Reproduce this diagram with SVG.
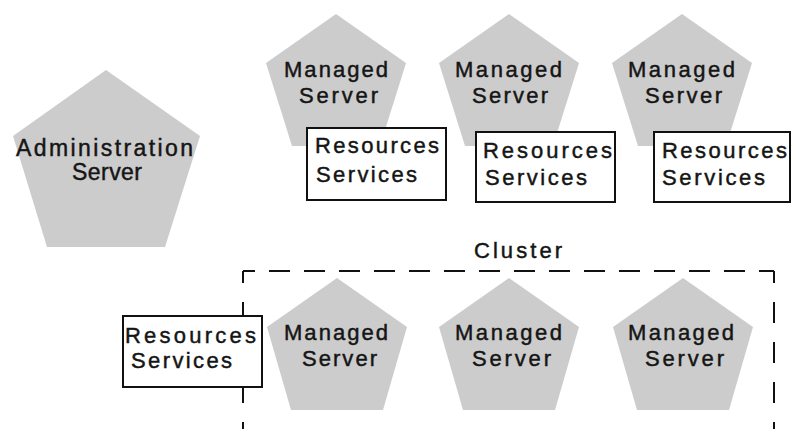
<svg xmlns="http://www.w3.org/2000/svg" width="793" height="429" viewBox="0 0 793 429">
<style>
  .pent { fill: #cccccc; stroke: none; }
  .box { fill: #ffffff; stroke: #111111; stroke-width: 2; }
  .t { font-family: "Liberation Sans", Arial, sans-serif; font-size: 22px; fill: #151515; stroke: #151515; stroke-width: 0.45; }
  .ta { font-size: 23px; }
  .dash { fill: none; stroke: #111111; stroke-width: 2; }
</style>
<rect width="793" height="429" fill="#ffffff"/>

<g id="cluster">
  <line class="dash" x1="243" y1="271" x2="774" y2="271" stroke-dasharray="21 14" stroke-dashoffset="9"/>
  <line class="dash" x1="243" y1="271" x2="243" y2="429" stroke-dasharray="21 19" stroke-dashoffset="9"/>
  <line class="dash" x1="774" y1="271" x2="774" y2="429" stroke-dasharray="21 19" stroke-dashoffset="9"/>
  <text class="t" x="474" y="258" textLength="88" lengthAdjust="spacing">Cluster</text>
</g>

<g id="admin-server">
  <polygon class="pent" points="106,70 200,136 165,247 47,247 13,136"/>
  <text class="t ta" x="16" y="156" textLength="177" lengthAdjust="spacing">Administration</text>
  <text class="t ta" x="72" y="180" textLength="70" lengthAdjust="spacing">Server</text>
</g>

<g id="managed-server-1">
  <polygon class="pent" points="336,14 406,63 380,146 292,146 266,63"/>
  <text class="t" x="284" y="77" textLength="104" lengthAdjust="spacing">Managed</text>
  <text class="t" x="299" y="103" textLength="79" lengthAdjust="spacing">Server</text>
</g>
<g id="resources-1">
  <rect class="box" x="307" y="128" width="139" height="72"/>
  <text class="t" x="315" y="153" textLength="124" lengthAdjust="spacing">Resources</text>
  <text class="t" x="316" y="182" textLength="101" lengthAdjust="spacing">Services</text>
</g>

<g id="managed-server-2">
  <polygon class="pent" points="509,14 579,63 553,146 465,146 439,63"/>
  <text class="t" x="455" y="77" textLength="107" lengthAdjust="spacing">Managed</text>
  <text class="t" x="472" y="103" textLength="76" lengthAdjust="spacing">Server</text>
</g>
<g id="resources-2">
  <rect class="box" x="476" y="132" width="139" height="70"/>
  <text class="t" x="483" y="158" textLength="129" lengthAdjust="spacing">Resources</text>
  <text class="t" x="485" y="185" textLength="102" lengthAdjust="spacing">Services</text>
</g>

<g id="managed-server-3">
  <polygon class="pent" points="682,14 752,63 726,146 638,146 612,63"/>
  <text class="t" x="628" y="77" textLength="107" lengthAdjust="spacing">Managed</text>
  <text class="t" x="645" y="103" textLength="77" lengthAdjust="spacing">Server</text>
</g>
<g id="resources-3">
  <rect class="box" x="654" y="132" width="136" height="70"/>
  <text class="t" x="662" y="158" textLength="125" lengthAdjust="spacing">Resources</text>
  <text class="t" x="662" y="185" textLength="103" lengthAdjust="spacing">Services</text>
</g>

<g id="resources-4">
  <rect class="box" x="123" y="316" width="139" height="71"/>
  <text class="t" x="125" y="343" textLength="131" lengthAdjust="spacing">Resources</text>
  <text class="t" x="131" y="368" textLength="101" lengthAdjust="spacing">Services</text>
</g>

<g id="managed-server-4">
  <polygon class="pent" points="337,278 407,327 383,410 291,410 267,327"/>
  <text class="t" x="284" y="340" textLength="104" lengthAdjust="spacing">Managed</text>
  <text class="t" x="302" y="366" textLength="75" lengthAdjust="spacing">Server</text>
</g>
<g id="managed-server-5">
  <polygon class="pent" points="509,278 579,327 555,410 463,410 439,327"/>
  <text class="t" x="455" y="340" textLength="107" lengthAdjust="spacing">Managed</text>
  <text class="t" x="472" y="366" textLength="79" lengthAdjust="spacing">Server</text>
</g>
<g id="managed-server-6">
  <polygon class="pent" points="683,278 753,327 729,410 637,410 613,327"/>
  <text class="t" x="628" y="340" textLength="106" lengthAdjust="spacing">Managed</text>
  <text class="t" x="645" y="366" textLength="79" lengthAdjust="spacing">Server</text>
</g>

<g id="connectors"/>
</svg>
